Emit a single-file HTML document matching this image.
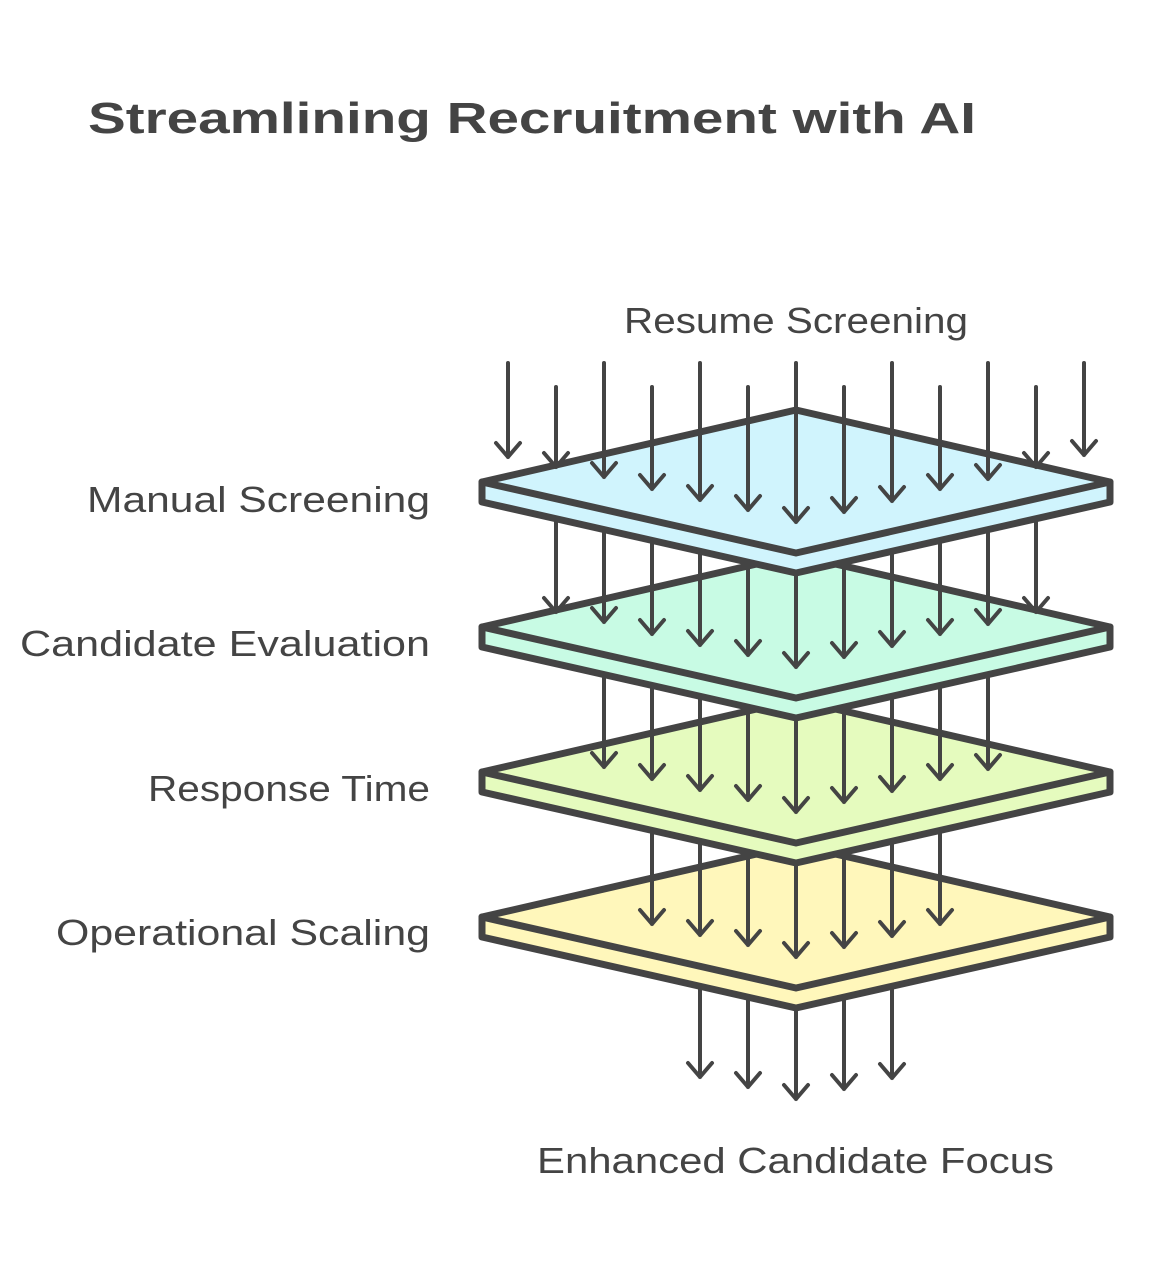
<!DOCTYPE html>
<html><head><meta charset="utf-8"><style>
html,body{margin:0;padding:0;background:#fff;}
svg{display:block;}
text{font-family:"Liberation Sans","DejaVu Sans",sans-serif;fill:#444;}
</style></head><body>
<svg id="s" width="1160" height="1280" viewBox="0 0 1160 1280" xmlns="http://www.w3.org/2000/svg">
<text x="88" y="133" font-size="44" font-weight="bold" textLength="888" lengthAdjust="spacingAndGlyphs">Streamlining Recruitment with AI</text>
<text x="624" y="333" font-size="36" textLength="344" lengthAdjust="spacingAndGlyphs">Resume Screening</text>
<text x="430" y="512" font-size="36" text-anchor="end" textLength="343" lengthAdjust="spacingAndGlyphs">Manual Screening</text>
<text x="430" y="656" font-size="36" text-anchor="end" textLength="410" lengthAdjust="spacingAndGlyphs">Candidate Evaluation</text>
<text x="430" y="801" font-size="36" text-anchor="end" textLength="282" lengthAdjust="spacingAndGlyphs">Response Time</text>
<text x="430" y="945" font-size="36" text-anchor="end" textLength="374" lengthAdjust="spacingAndGlyphs">Operational Scaling</text>
<text x="537" y="1173" font-size="36" textLength="517" lengthAdjust="spacingAndGlyphs">Enhanced Candidate Focus</text>
<g id="g" stroke="#444" stroke-linecap="round" stroke-linejoin="round" fill="none"></g>
</svg>
<script>
var g=document.getElementById('g');
function el(t,a){var e=document.createElementNS('http://www.w3.org/2000/svg',t);for(var k in a)e.setAttribute(k,a[k]);g.appendChild(e);}
var tip1={508:457,556:467,604:477,652:489,700:500,748:510,796:522,844:512,892:501,940:489,988:479,1036:467,1084:455};
function start(x){return ((x-508)/48)%2==0?363:387;}
function arrow(x,y0,y1){el('path',{d:'M'+x+' '+y0+'L'+x+' '+y1+'M'+(x-12)+' '+(y1-14)+'L'+x+' '+y1+'L'+(x+12)+' '+(y1-14),'stroke-width':4});}
var cols=['#d0f4fd','#c8fbe4','#e5fbbe','#fff7bb'];
var ranges=[[508,1084],[556,1036],[604,988],[652,940]];
function layer(k){var T=410+145*k;
el('path',{d:'M796 '+T+'L1110 '+(T+72)+'L1110 '+(T+92)+'L796 '+(T+163)+'L482 '+(T+92)+'L482 '+(T+72)+'Z',fill:cols[k],'stroke-width':7});
el('path',{d:'M482 '+(T+72)+'L796 '+(T+143)+'L1110 '+(T+72),'stroke-width':7});}
// out arrows
for(var x=700;x<=892;x+=48){arrow(x,980,tip1[x]+577);}
for(var k=3;k>=0;k--){layer(k);var r=ranges[k];for(var x=r[0];x<=r[1];x+=48){arrow(x,k==0?start(x):430,tip1[x]+145*k);}}
</script>
</body></html>
